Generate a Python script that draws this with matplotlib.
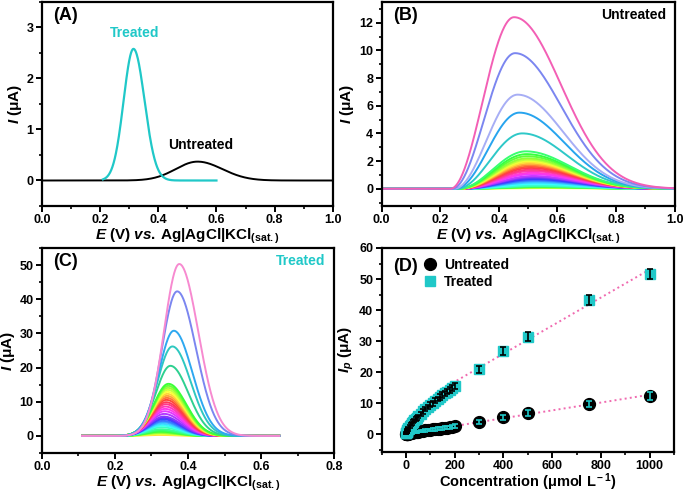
import colorsys
import numpy as np
import matplotlib
matplotlib.use('Agg')
import matplotlib.pyplot as plt
from matplotlib.ticker import MultipleLocator
from matplotlib.lines import Line2D

# --- data ---
conc = [1, 2, 3, 4, 5, 6, 8, 10, 15, 20, 25, 30, 35, 40, 45, 50, 60, 70, 80, 90,
        100, 110, 120, 130, 140, 150, 160, 170, 180, 190, 200, 300, 400, 500, 750, 1000]
ip_untreated = [0.05, 0.08, 0.10, 0.12, 0.14, 0.16, 0.20, 0.25, 0.35, 0.45, 0.55, 0.62,
                0.70, 0.78, 0.85, 0.92, 1.05, 1.15, 1.28, 1.38, 1.50, 1.60, 1.70, 1.80,
                1.90, 2.00, 2.10, 2.20, 2.35, 2.50, 2.70, 4.00, 5.50, 6.80, 9.80, 12.40]
ip_treated = [0.3, 0.5, 0.7, 0.9, 1.1, 1.3, 1.6, 2.0, 2.6, 3.1, 3.6, 4.1, 4.5, 5.0, 5.4,
              5.8, 6.6, 7.4, 8.1, 8.8, 9.5, 10.1, 10.8, 11.4, 12.0, 12.6, 13.2, 13.8,
              14.4, 15.0, 15.6, 21.0, 26.8, 31.5, 43.3, 51.5]
err_untreated = [0.2, 0.2, 0.2, 0.2, 0.2, 0.2, 0.2, 0.2, 0.3, 0.3, 0.3, 0.3, 0.3, 0.3,
                 0.3, 0.3, 0.4, 0.4, 0.4, 0.4, 0.4, 0.4, 0.5, 0.5, 0.5, 0.5, 0.5, 0.5,
                 0.5, 0.5, 0.6, 0.8, 0.9, 1.0, 1.1, 1.3]
err_treated = [0.3, 0.3, 0.3, 0.3, 0.3, 0.3, 0.4, 0.4, 0.4, 0.5, 0.5, 0.5, 0.5, 0.6,
               0.6, 0.6, 0.6, 0.7, 0.7, 0.7, 0.8, 0.8, 0.8, 0.8, 0.9, 0.9, 0.9, 0.9,
               1.0, 1.0, 1.0, 1.1, 1.3, 1.4, 1.5, 1.6]

# panel A: single voltammograms (height, peak potential)
a_treated_peak = [2.58, 0.315]
a_untreated_peak = [0.37, 0.535]

# colours of the highest concentrations (1000, 750, 500, 400, 300)
b_top_colors = ['#f35fb5', '#7b86f0', '#a7aef5', '#27a4ee', '#2ec8c8']
c_top_colors = ['#f78ad0', '#7b86f0', '#2ea8f0', '#2ec8c0', '#2ed090']
CYAN = '#20c8c8'
PINK = '#f06ab0'

plt.rcParams.update({
    'font.family': ['Liberation Sans', 'DejaVu Sans'],
    'font.weight': 'bold',
    'axes.labelweight': 'bold',
    'mathtext.fontset': 'custom',
    'mathtext.rm': 'Liberation Sans:bold',
    'mathtext.it': 'Liberation Sans:italic:bold',
    'mathtext.bf': 'Liberation Sans:bold',
    'axes.linewidth': 1.6,
    'xtick.major.width': 1.4, 'ytick.major.width': 1.4,
    'xtick.minor.width': 1.2, 'ytick.minor.width': 1.2,
    'xtick.major.size': 4, 'ytick.major.size': 4,
    'xtick.minor.size': 2.5, 'ytick.minor.size': 2.5,
    'xtick.major.pad': 2, 'ytick.major.pad': 2,
    'xtick.labelsize': 9, 'ytick.labelsize': 9,
    'axes.labelsize': 11,
})

XLAB = r'$E$ (V) $vs.\,$Ag|AgCl|KCl$_{\rm (sat.)}$'
YLAB = r'$I$ (μA)'


def asym_gauss(E, h, mu, sl, sr):
    s = np.where(E < mu, sl, sr)
    return h * np.exp(-0.5 * ((E - mu) / s) ** 2)


def untreated_shape(E, h, mu, onset, sr):
    # steep raised-cosine rise, gaussian decay
    left = 0.5 * (1 + np.cos(np.pi * (E - mu) / (mu - onset)))
    left = np.where(E < onset, 0.0, left)
    right = np.exp(-0.5 * ((E - mu) / sr) ** 2)
    return h * np.where(E < mu, left, right)


def rainbow(k, start):
    h = (start - 0.04 * k) % 1.0
    return colorsys.hsv_to_rgb(h, 0.78, 1.0)


def curve_colors(top, start):
    n = len(conc)
    cols = []
    for i in range(n):
        rank = n - 1 - i          # 0 = highest concentration
        if rank < len(top):
            cols.append(top[rank])
        else:
            cols.append(rainbow(rank - len(top), start))
    return cols


def style(ax, xmaj, xmin, ymaj, ymin):
    ax.xaxis.set_major_locator(MultipleLocator(xmaj))
    ax.xaxis.set_minor_locator(MultipleLocator(xmin))
    ax.yaxis.set_major_locator(MultipleLocator(ymaj))
    ax.yaxis.set_minor_locator(MultipleLocator(ymin))
    ax.tick_params(which='both', direction='out')
    ax.xaxis.labelpad = 0
    ax.yaxis.labelpad = 2


fig = plt.figure(figsize=(6.85, 4.94), dpi=100)
axA = fig.add_axes([0.061, 0.583, 0.425, 0.413])
axB = fig.add_axes([0.557, 0.583, 0.428, 0.413])
axC = fig.add_axes([0.061, 0.083, 0.427, 0.415])
axD = fig.add_axes([0.557, 0.086, 0.427, 0.412])

# --- (A) ---
E = np.linspace(0, 1.0, 600)
Et = np.linspace(0.21, 0.6, 300)
axA.plot(E, asym_gauss(E, a_untreated_peak[0], a_untreated_peak[1], 0.075, 0.085),
         color='black', lw=1.4)
axA.plot(Et, asym_gauss(Et, a_treated_peak[0], a_treated_peak[1], 0.034, 0.038),
         color=CYAN, lw=1.6)
axA.set_xlim(0, 1.0)
axA.set_ylim(-0.5, 3.5)
style(axA, 0.2, 0.1, 1, 0.5)
axA.set_xlabel(XLAB)
axA.set_ylabel(YLAB)
axA.text(0.04, 0.935, '(A)', transform=axA.transAxes, fontsize=13, va='center')
axA.text(0.32, 2.89, 'Treated', color=CYAN, fontsize=10, ha='center', va='center')
axA.text(0.545, 0.70, 'Untreated', color='black', fontsize=10, ha='center', va='center')

# --- (B) untreated series ---
E = np.linspace(0, 1.0, 600)
cols = curve_colors(b_top_colors, 0.38)
for h, c in zip(ip_untreated, cols):
    mu = 0.448 + 0.087 * np.exp(-h / 4.0)
    r = np.sqrt(h / max(ip_untreated))
    onset = 0.235 + 0.05 * (1 - r)
    axB.plot(E, untreated_shape(E, h, mu, onset, 0.16 - 0.02 * (1 - r)), color=c, lw=1.4)
axB.set_xlim(0, 1.0)
axB.set_ylim(-1.25, 13.5)
style(axB, 0.2, 0.1, 2, 1)
axB.set_xlabel(XLAB)
axB.set_ylabel(YLAB)
axB.text(0.04, 0.935, '(B)', transform=axB.transAxes, fontsize=13, va='center')
axB.text(0.97, 0.935, 'Untreated', transform=axB.transAxes, fontsize=10,
         ha='right', va='center')

# --- (C) treated series ---
E = np.linspace(0.11, 0.65, 500)
cols = curve_colors(c_top_colors, 0.33)
for h, c in zip(ip_treated, cols):
    r = (h / max(ip_treated)) ** 0.6
    mu = 0.318 + 0.058 * r
    axC.plot(E, asym_gauss(E, h * 0.977, mu, 0.038 + 0.004 * r, 0.046 + 0.006 * r),
             color=c, lw=1.4)
axC.set_xlim(0, 0.8)
axC.set_ylim(-5, 55)
style(axC, 0.2, 0.1, 10, 5)
axC.set_xlabel(XLAB)
axC.set_ylabel(YLAB)
axC.text(0.04, 0.935, '(C)', transform=axC.transAxes, fontsize=13, va='center')
axC.text(0.97, 0.935, 'Treated', transform=axC.transAxes, fontsize=10, color=CYAN,
         ha='right', va='center')

# --- (D) calibration ---
conc_a = np.array(conc)
ipu = np.array(ip_untreated)
ipt = np.array(ip_treated)
fit_u = np.polyfit(conc_a, ipu, 1)
hi = conc_a >= 200
fit_t = np.polyfit(conc_a[hi], ipt[hi], 1)
xu = np.array([0, 1000])
xt = np.array([190, 1000])
axD.plot(xu, np.polyval(fit_u, xu), ls=':', color=PINK, lw=1.4, zorder=1)
axD.plot(xt, np.polyval(fit_t, xt), ls=':', color=PINK, lw=1.4, zorder=1)

axD.plot(conc_a, ipu, 'o', color='black', ms=8.5, zorder=2)
axD.plot(conc_a, ipt, 's', color=CYAN, ms=7, zorder=2)
axD.errorbar(conc_a, ipu, yerr=err_untreated, fmt='none', ecolor=CYAN, elinewidth=1.2,
             capsize=2.5, capthick=1.2, zorder=3)
axD.errorbar(conc_a, ipt, yerr=err_treated, fmt='none', ecolor='black', elinewidth=1.2,
             capsize=2.5, capthick=1.2, zorder=3)
axD.set_xlim(-100, 1100)
axD.set_ylim(-5.5, 60)
style(axD, 200, 100, 10, 5)
axD.set_xlabel(r'Concentration (μmol L$^{\rm -1}$)', fontsize=10.5, labelpad=-0.5)
axD.set_ylabel(r'$I_p$ (μA)')
axD.text(0.04, 0.91, '(D)', transform=axD.transAxes, fontsize=13, va='center')
handles = [Line2D([], [], ls='none', marker='o', color='black', ms=8.5),
           Line2D([], [], ls='none', marker='s', color=CYAN, ms=7)]
axD.legend(handles, ['Untreated', 'Treated'], loc='upper left', bbox_to_anchor=(0.11, 1.0),
           frameon=False, fontsize=10, handlelength=1.0, handletextpad=0.5,
           labelspacing=0.25, borderaxespad=0.3)

fig.savefig('out.png', dpi=100)
